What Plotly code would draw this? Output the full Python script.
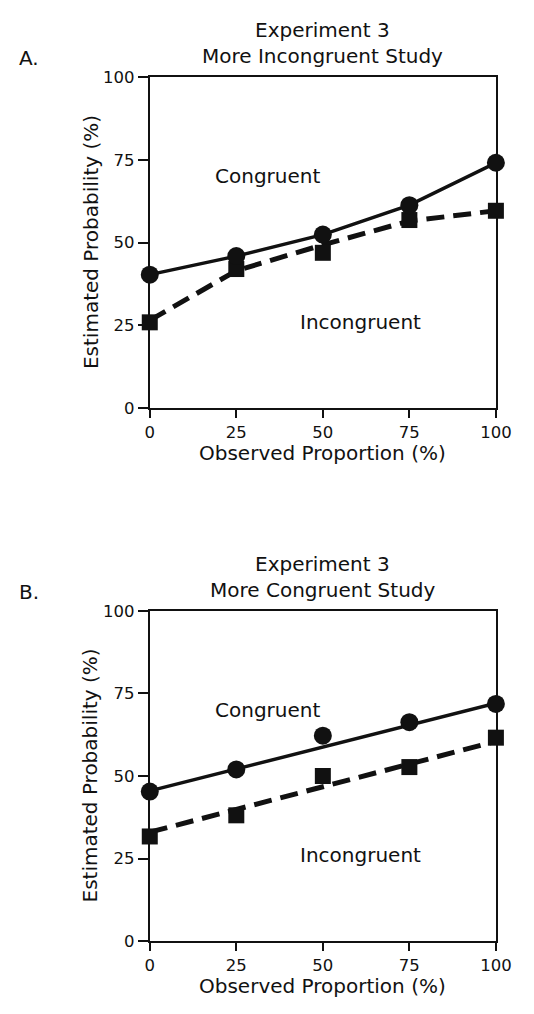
import plotly.graph_objects as go

# ---------------- data ----------------
x_obs = [0, 25, 50, 75, 100]
x_ticks = [0, 25, 50, 75, 100]
y_ticks = [0, 25, 50, 75, 100]

# Panel A: More Incongruent Study
a_congruent = [40.3, 45.9, 52.4, 61.3, 74.1]
a_incongruent = [25.9, 42.0, 46.9, 56.8, 59.6]
a_congruent_line = [40.3, 45.9, 52.4, 61.3, 74.1]
a_incongruent_line = [26.5, 41.5, 49.3, 56.5, 59.6]

# Panel B: More Congruent Study
b_congruent = [45.3, 52.0, 62.2, 66.3, 71.8]
b_incongruent = [31.7, 38.1, 50.0, 52.7, 61.6]
fit_x = [0, 100]
b_congruent_fit = [45.5, 72.0]
b_incongruent_fit = [33.0, 60.5]

panel_labels = ["A.", "B."]
title_line1 = ["Experiment 3", "Experiment 3"]
title_line2 = ["More Incongruent Study", "More Congruent Study"]
x_title = "Observed Proportion (%)"
y_title = "Estimated Probability (%)"
series_labels = ["Congruent", "Incongruent"]

# ---------------- style ----------------
FONT = "DejaVu Sans"
INK = "#111111"
W, H = 534, 1014

def px_x(v):
    return v / W

def px_y(v):
    return 1 - v / H

plot_left, plot_right = 150.7, 511.0
panels = [
    dict(top=69.3, bottom=406.7, xa="x", ya="y"),
    dict(top=613.3, bottom=950.0, xa="x2", ya="y2"),
]

fig = go.Figure()

def add_panel(i, cong, incong, line_x_c, line_c, line_x_i, line_i):
    xa, ya = panels[i]["xa"], panels[i]["ya"]
    # lines
    fig.add_trace(go.Scatter(x=line_x_c, y=line_c, mode="lines", xaxis=xa, yaxis=ya,
                             line=dict(color=INK, width=3.5), cliponaxis=False,
                             hoverinfo="skip"))
    fig.add_trace(go.Scatter(x=line_x_i, y=line_i, mode="lines", xaxis=xa, yaxis=ya,
                             line=dict(color=INK, width=5, dash="18px,9px"),
                             cliponaxis=False, hoverinfo="skip"))
    # markers
    fig.add_trace(go.Scatter(x=x_obs, y=incong, mode="markers", xaxis=xa, yaxis=ya,
                             marker=dict(symbol="square", size=16, color=INK),
                             cliponaxis=False, name=series_labels[1]))
    fig.add_trace(go.Scatter(x=x_obs, y=cong, mode="markers", xaxis=xa, yaxis=ya,
                             marker=dict(symbol="circle", size=18, color=INK),
                             cliponaxis=False, name=series_labels[0]))

add_panel(0, a_congruent, a_incongruent, x_obs, a_congruent_line, x_obs, a_incongruent_line)
add_panel(1, b_congruent, b_incongruent, fit_x, b_congruent_fit, fit_x, b_incongruent_fit)

axis_common = dict(
    range=[0, 100], showgrid=False, zeroline=False,
    showline=True, linecolor=INK, linewidth=2, mirror=True,
    ticks="outside", tickcolor=INK, tickwidth=2,
    tickfont=dict(family=FONT, size=16.5, color=INK),
    fixedrange=True,
)

layout = dict(
    width=W, height=H,
    margin=dict(l=0, r=0, t=0, b=0),
    paper_bgcolor="white", plot_bgcolor="white",
    showlegend=False,
    font=dict(family=FONT, color=INK),
)

annotations = []
for i, p in enumerate(panels):
    sfx = "" if i == 0 else "2"
    layout["xaxis" + sfx] = dict(axis_common, domain=[px_x(plot_left), px_x(plot_right)],
                                 anchor="y" + sfx, tickvals=x_ticks, ticklen=8)
    layout["yaxis" + sfx] = dict(axis_common, domain=[px_y(p["bottom"]), px_y(p["top"])],
                                 anchor="x" + sfx, tickvals=y_ticks, ticklen=10)
    cx = (plot_left + plot_right) / 2
    cy = (p["top"] + p["bottom"]) / 2
    big = dict(family=FONT, size=20, color=INK)
    annotations += [
        dict(text=title_line1[i], x=px_x(cx), y=px_y(p["top"] - 48), xref="paper", yref="paper",
             xanchor="center", yanchor="middle", showarrow=False, font=big),
        dict(text=title_line2[i], x=px_x(cx), y=px_y(p["top"] - 21), xref="paper", yref="paper",
             xanchor="center", yanchor="middle", showarrow=False, font=big),
        dict(text=panel_labels[i], x=px_x(25), y=px_y(p["top"] - 19), xref="paper", yref="paper",
             xanchor="center", yanchor="middle", showarrow=False, font=big),
        dict(text=x_title, x=px_x(cx), y=px_y(p["bottom"] + 46), xref="paper", yref="paper",
             xanchor="center", yanchor="middle", showarrow=False, font=big),
        dict(text=y_title, x=px_x(89), y=px_y(cy), xref="paper", yref="paper", textangle=-90,
             xanchor="center", yanchor="middle", showarrow=False, font=big),
        dict(text=series_labels[0], x=34, y=70, xref="x" + sfx, yref="y" + sfx,
             xanchor="center", yanchor="middle", showarrow=False, font=big),
        dict(text=series_labels[1], x=61, y=26, xref="x" + sfx, yref="y" + sfx,
             xanchor="center", yanchor="middle", showarrow=False, font=big),
    ]
layout["annotations"] = annotations

fig.update_layout(**layout)
fig.write_html("out.html", config={"displayModeBar": False})
